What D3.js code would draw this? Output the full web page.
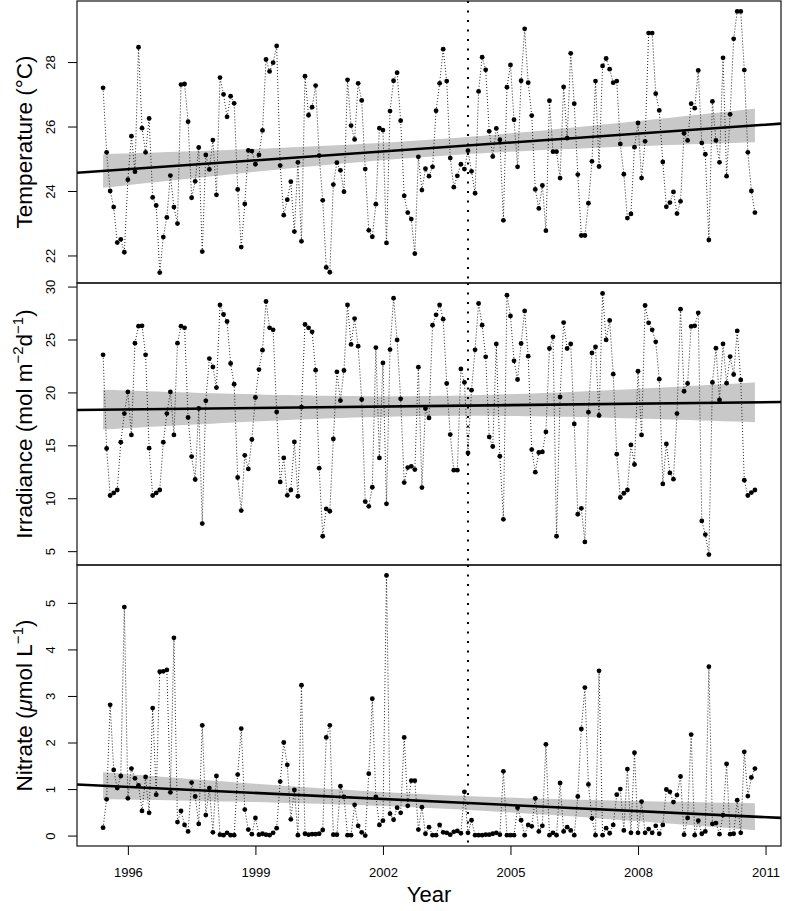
<!DOCTYPE html>
<html>
<head>
<meta charset="utf-8">
<script src="https://cdn.jsdelivr.net/npm/d3@7"></script>
<style>
  body { margin: 0; background: #fff; }
  svg { display: block; font-family: "Liberation Sans", Arial, Helvetica, sans-serif; }
</style>
</head>
<body>
<div id="chart"></div>
<script>
// monthly series, Jun 1995 .. Oct 2010
const temperature = [27.2,25.2,24.0,23.5,22.4,22.5,22.1,24.35,25.7,24.6,28.46,25.95,25.2,26.25,23.8,23.55,21.47,22.57,23.18,24.48,
  23.5,22.99,27.3,27.32,26.15,23.79,24.3,25.35,22.12,25.12,24.67,25.58,23.88,27.52,27.0,26.3,26.94,26.72,24.05,22.26,
  23.6,25.26,25.24,24.83,25.12,25.88,28.08,27.71,27.98,28.5,24.79,23.25,23.73,24.29,22.74,24.89,22.44,27.56,26.35,26.6,
  27.27,25.1,23.71,21.63,21.48,24.2,24.88,24.64,23.98,27.45,26.03,25.6,27.34,26.81,24.68,22.78,22.58,23.59,25.95,25.89,
  22.39,26.48,27.42,27.67,26.18,23.85,23.33,23.13,22.06,25.06,24.03,24.69,24.46,24.75,26.49,27.34,28.4,27.41,25.02,24.12,
  24.47,24.83,24.68,25.25,24.61,23.93,27.09,28.15,27.76,25.85,25.07,25.94,25.59,23.09,27.22,27.91,26.21,24.75,27.42,29.03,
  27.36,26.34,24.05,23.46,24.17,22.77,26.8,25.22,25.22,24.4,27.23,25.64,28.27,26.71,24.51,22.62,22.62,23.62,24.92,27.41,
  24.76,27.88,28.11,27.78,27.36,27.41,25.46,24.52,23.16,23.29,25.36,26.11,24.4,25.54,28.9,28.9,27.02,26.5,24.9,23.51,
  23.64,23.97,23.3,23.68,25.79,25.57,26.71,26.57,27.74,25.49,25.14,22.48,26.78,25.57,24.89,28.13,24.46,26.38,28.72,29.57,
  29.57,27.75,25.2,24.0,23.33];

const irradiance = [23.55,14.7,10.26,10.5,10.78,15.29,18.0,20.05,15.98,24.65,26.26,26.29,23.55,14.73,10.26,10.5,10.78,15.29,18.0,20.05,
  15.98,24.65,26.26,26.1,17.63,13.94,11.77,18.48,7.61,19.2,23.2,22.41,20.46,28.27,27.36,26.7,22.73,20.77,11.96,8.84,
  14.06,12.77,15.55,19.52,22.16,23.99,28.59,26.1,25.91,18.16,11.54,13.81,10.28,10.78,15.32,10.19,18.6,26.42,26.1,25.72,
  22.1,12.84,6.41,8.99,8.77,15.6,21.94,19.23,22.07,28.27,24.53,26.98,24.37,19.33,9.69,9.24,11.04,24.24,13.81,22.79,
  9.47,24.05,28.9,24.96,19.39,11.48,12.9,13.02,12.71,22.38,11.01,18.48,17.59,26.35,27.33,28.27,26.92,20.84,16.02,12.65,
  12.65,22.22,20.94,14.28,20.21,24.02,28.4,26.35,23.36,15.79,14.89,24.58,13.97,8.01,29.19,27.23,22.98,21.22,24.62,27.7,
  23.42,14.6,12.46,14.32,14.38,16.27,24.15,25.25,6.41,19.57,26.6,24.15,24.58,17.02,8.49,9.05,5.87,18.13,23.73,24.3,
  17.82,29.35,24.96,26.8,21.72,14.16,10.07,10.47,10.78,15.04,13.19,22.0,15.98,28.21,26.57,25.91,24.78,21.25,11.35,15.13,
  12.39,11.8,18.0,27.86,20.11,20.84,26.23,26.29,27.52,7.86,6.57,4.68,20.94,24.18,19.29,24.58,20.87,23.39,21.69,25.81,
  21.18,11.7,10.26,10.54,10.78];

const nitrate = [0.17,0.78,2.81,1.41,1.02,1.28,4.91,0.8,1.44,1.23,1.08,0.53,1.26,0.49,2.74,0.88,3.52,3.53,3.56,0.93,
  4.25,0.29,0.53,0.23,0.09,1.14,0.84,0.25,2.37,0.44,1.02,0.07,1.28,0.02,0.01,0.06,0.01,0.01,1.31,2.3,
  0.56,0.13,0.03,0.38,0.02,0.04,0.02,0.01,0.06,0.16,1.16,2.0,1.52,0.35,0.98,0.01,3.23,0.04,0.02,0.03,
  0.03,0.04,0.12,2.11,2.37,0.02,0.02,1.06,0.83,0.01,0.01,0.66,0.21,0.07,0.0,1.33,2.94,0.83,0.23,0.32,
  5.59,0.47,0.34,0.6,0.49,2.11,0.64,1.18,1.18,0.13,0.61,0.04,0.18,0.01,0.01,0.23,0.07,0.06,0.02,0.08,
  0.1,0.05,0.94,0.06,0.33,0.01,0.01,0.01,0.02,0.02,0.04,0.06,0.02,1.38,0.01,0.01,0.01,0.6,0.33,0.01,
  0.23,0.2,0.8,0.09,0.21,1.96,0.01,0.06,0.01,1.13,0.09,0.18,0.11,0.01,0.84,2.29,3.18,1.1,0.37,0.01,
  3.54,0.01,0.16,0.05,0.23,0.88,1.0,0.11,1.43,0.06,1.78,0.06,0.73,0.06,0.14,0.06,0.21,0.04,0.23,0.99,
  0.94,0.72,0.87,1.27,0.02,0.38,2.17,0.01,0.32,0.04,0.09,3.63,0.25,0.27,0.03,0.44,1.54,0.03,0.04,0.76,
  0.06,1.8,0.85,1.25,1.44];

const yearTicks = [1996, 1999, 2002, 2005, 2008, 2011];
const tempTicks = [22, 24, 26, 28];
const irrTicks = [5, 10, 15, 20, 25, 30];
const nitTicks = [0, 1, 2, 3, 4, 5];
const breakYear = 2004;

const W = 785, H = 911;
const left = 77, right = 781;
const tcrit = 1.973; // t(0.975, 183)

const dates = d3.timeMonth.range(new Date(1995, 5, 1), new Date(2010, 10, 1));
const years = dates.map(d => d.getFullYear() + d.getMonth() / 12);

// R style axis extension (4%)
function padded(ext) {
  const d = (ext[1] - ext[0]) * 0.04;
  return [ext[0] - d, ext[1] + d];
}

const x = d3.scaleLinear().domain(padded(d3.extent(years))).range([left, right]);

// least squares fit + 95% confidence band
function linfit(xs, ys) {
  const n = xs.length;
  const mx = d3.mean(xs), my = d3.mean(ys);
  let sxx = 0, sxy = 0;
  xs.forEach((v, i) => { sxx += (v - mx) ** 2; sxy += (v - mx) * (ys[i] - my); });
  const b = sxy / sxx, a = my - b * mx;
  let sse = 0;
  xs.forEach((v, i) => { sse += (ys[i] - a - b * v) ** 2; });
  const s = Math.sqrt(sse / (n - 2));
  return {
    predict: v => a + b * v,
    half: v => tcrit * s * Math.sqrt(1 / n + (v - mx) ** 2 / sxx)
  };
}

const svg = d3.select('#chart').append('svg')
  .attr('width', W).attr('height', H);

const panels = [
  { values: temperature, ticks: tempTicks, top: 1, bottom: 283 },
  { values: irradiance, ticks: irrTicks, top: 283, bottom: 565 },
  { values: nitrate, ticks: nitTicks, top: 565, bottom: 846 }
];

panels.forEach((p, k) => {
  const y = d3.scaleLinear().domain(padded(d3.extent(p.values))).range([p.bottom, p.top]);
  const g = svg.append('g');

  svg.append('clipPath').attr('id', 'clip' + k)
    .append('rect').attr('x', left).attr('y', p.top).attr('width', right - left).attr('height', p.bottom - p.top);

  const plot = g.append('g').attr('clip-path', `url(#clip${k})`);

  // confidence band over the data range
  const fit = linfit(years, p.values);
  const bandX = d3.range(0, 61).map(i => years[0] + (years[years.length - 1] - years[0]) * i / 60);
  const area = d3.area()
    .x(d => x(d))
    .y0(d => y(fit.predict(d) - fit.half(d)))
    .y1(d => y(fit.predict(d) + fit.half(d)));
  plot.append('path').datum(bandX)
    .attr('d', area)
    .attr('fill', '#c8c8c8');

  // series: dotted connectors + points
  const pts = years.map((t, i) => [t, p.values[i]]);
  plot.append('path').datum(pts)
    .attr('d', d3.line().x(d => x(d[0])).y(d => y(d[1])))
    .attr('fill', 'none')
    .attr('stroke', '#222')
    .attr('stroke-width', 1)
    .attr('stroke-dasharray', '1,2');

  plot.selectAll('circle').data(pts).enter().append('circle')
    .attr('cx', d => x(d[0]))
    .attr('cy', d => y(d[1]))
    .attr('r', 2.4)
    .attr('fill', '#000');

  // trend line across whole panel
  const xd = x.domain();
  plot.append('line')
    .attr('x1', x(xd[0])).attr('y1', y(fit.predict(xd[0])))
    .attr('x2', x(xd[1])).attr('y2', y(fit.predict(xd[1])))
    .attr('stroke', '#000')
    .attr('stroke-width', 2.6);

  // break year
  g.append('line')
    .attr('x1', x(breakYear)).attr('x2', x(breakYear))
    .attr('y1', p.top).attr('y2', p.bottom)
    .attr('stroke', '#000')
    .attr('stroke-width', 2)
    .attr('stroke-dasharray', '2,7.5');

  // y axis
  const ax = g.append('g')
    .attr('transform', `translate(${left},0)`)
    .call(d3.axisLeft(y).tickValues(p.ticks).tickSize(9).tickFormat(d3.format('d')));
  ax.select('.domain').remove();
  ax.selectAll('line').attr('stroke', '#000');
  ax.selectAll('text')
    .attr('transform', 'rotate(-90)')
    .attr('x', 0).attr('y', -22).attr('dy', 0)
    .attr('text-anchor', 'middle')
    .attr('font-size', 13)
    .attr('fill', '#000');

  // box
  g.append('rect')
    .attr('x', left).attr('y', p.top)
    .attr('width', right - left).attr('height', p.bottom - p.top)
    .attr('fill', 'none')
    .attr('stroke', '#111')
    .attr('stroke-width', 1.2);
});

// x axis on bottom panel
const xa = svg.append('g')
  .attr('transform', `translate(0,${panels[2].bottom})`)
  .call(d3.axisBottom(x).tickValues(yearTicks).tickSize(9).tickFormat(d3.format('d')));
xa.select('.domain').remove();
xa.selectAll('line').attr('stroke', '#000');
xa.selectAll('text')
  .attr('y', 31).attr('dy', 0)
  .attr('font-size', 13)
  .attr('fill', '#000');

svg.append('text')
  .attr('x', (left + right) / 2).attr('y', 902)
  .attr('text-anchor', 'middle')
  .attr('font-size', 22)
  .text('Year');

// axis titles
function yTitle(cy, parts) {
  const t = svg.append('text')
    .attr('transform', `translate(32,${cy}) rotate(-90)`)
    .attr('text-anchor', 'middle')
    .attr('font-size', 22.5);
  parts.forEach(pt => {
    const s = t.append('tspan').text(pt.text);
    if (pt.sup) s.attr('font-size', 15).attr('dy', -9);
    if (pt.down) s.attr('dy', 9);
    if (pt.italic) s.attr('font-style', 'italic');
  });
}

yTitle((panels[0].top + panels[0].bottom) / 2, [{ text: 'Temperature (°C)' }]);
yTitle((panels[1].top + panels[1].bottom) / 2, [
  { text: 'Irradiance (mol m' }, { text: '\u22122', sup: true },
  { text: 'd', down: true }, { text: '\u22121', sup: true }, { text: ')', down: true }
]);
yTitle((panels[2].top + panels[2].bottom) / 2, [
  { text: 'Nitrate (' }, { text: '\u03bc', italic: true }, { text: 'mol L' },
  { text: '\u22121', sup: true }, { text: ')', down: true }
]);
</script>
</body>
</html>
